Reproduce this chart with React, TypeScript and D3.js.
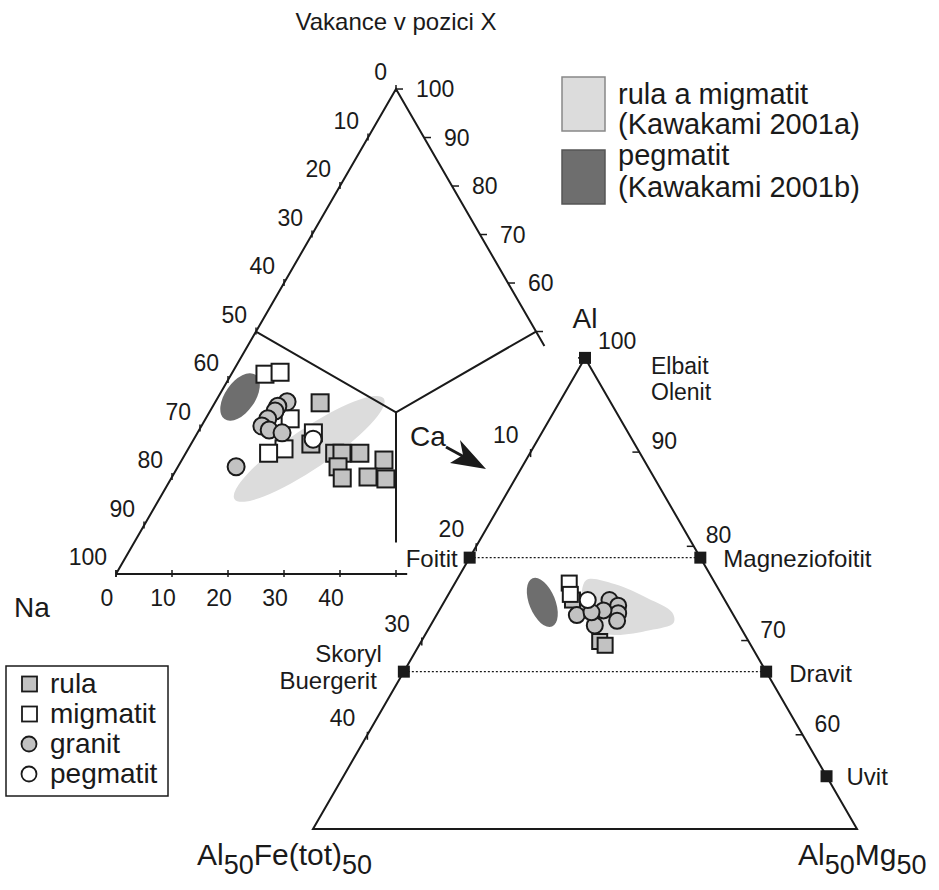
import React, { useEffect, useRef } from 'react';
import * as d3 from 'd3';

// ---- left diagram: X-site (Na, Ca, vacancy), values in %; Na = 100 - vac - ca
const naTicks = [0, 10, 20, 30, 40, 50, 60, 70, 80, 90, 100];
const vacTicks = [100, 90, 80, 70, 60, 50];
const vacLabels = [100, 90, 80, 70, 60];
const caTicks = [0, 10, 20, 30, 40, 50];
const caLabels = [0, 10, 20, 30, 40];

const xRula = [
  { vac: 35.3, ca: 18.8 }, { vac: 26.8, ca: 21.4 }, { vac: 24.9, ca: 26.6 },
  { vac: 24.9, ca: 27.9 }, { vac: 24.9, ca: 31.1 }, { vac: 23.5, ca: 36.1 },
  { vac: 22.1, ca: 28.6 }, { vac: 19.8, ca: 30.5 }, { vac: 20.0, ca: 35.0 },
  { vac: 19.6, ca: 38.4 },
];
const xMigmatit = [
  { vac: 41.2, ca: 6.0 }, { vac: 41.6, ca: 8.5 }, { vac: 32.0, ca: 15.1 },
  { vac: 25.8, ca: 17.1 }, { vac: 24.9, ca: 14.8 }, { vac: 29.1, ca: 20.7 },
];
const xGranit = [
  { vac: 35.5, ca: 12.8 }, { vac: 34.6, ca: 11.6 }, { vac: 33.6, ca: 11.6 },
  { vac: 32.0, ca: 11.1 }, { vac: 30.5, ca: 10.8 }, { vac: 29.7, ca: 12.5 },
  { vac: 29.1, ca: 15.1 }, { vac: 22.1, ca: 10.4 },
];
const xPegmatit = [{ vac: 27.8, ca: 21.3 }];

// Kawakami fields (centres)
const xFieldGneiss = { vac: 25.8, ca: 21.6 };
const xFieldPegmatite = { vac: 36.5, ca: 3.9 };

// ---- right diagram: Y-site Al - Al50Fe50 - Al50Mg50, values in %; Mg = 100 - al - fe
const feTicks = [10, 20, 30, 40];
const alTicks = [100, 90, 80, 70, 60];

const yRula = [{ al: 74.3, fe: 14.0 }, { al: 69.9, fe: 13.7 }, { al: 69.5, fe: 13.4 }];
const yMigmatit = [{ al: 76.1, fe: 13.4 }, { al: 74.9, fe: 13.9 }];
const yGranit = [
  { al: 72.7, fe: 14.4 }, { al: 71.6, fe: 13.3 }, { al: 74.3, fe: 10.6 },
  { al: 73.7, fe: 10.1 }, { al: 72.9, fe: 10.5 }, { al: 72.1, fe: 11.0 },
  { al: 73.2, fe: 11.7 }, { al: 73.0, fe: 12.9 },
];
const yPegmatit = [{ al: 74.3, fe: 12.6 }];

const yFieldGneiss = [
  { al: 76.4, fe: 11.7 }, { al: 76.0, fe: 9.3 }, { al: 74.5, fe: 7.0 },
  { al: 73.0, fe: 5.5 }, { al: 71.9, fe: 5.9 }, { al: 71.1, fe: 8.5 },
  { al: 70.6, fe: 12.0 }, { al: 71.1, fe: 13.8 }, { al: 73.7, fe: 13.4 },
];
const yFieldPegmatite = { al: 74.05, fe: 16.9 };

const endmembers = [
  { name: 'Elbait/Olenit', al: 100, fe: 0 },
  { name: 'Foitit', al: 78.8, fe: 21.2 },
  { name: 'Magneziofoitit', al: 78.8, fe: 0 },
  { name: 'Skoryl/Buergerit', al: 66.7, fe: 33.3 },
  { name: 'Dravit', al: 66.7, fe: 0 },
  { name: 'Uvit', al: 55.6, fe: 0 },
];

const App: React.FC = () => {
  const svgRef = useRef<SVGSVGElement>(null);

  useEffect(() => {
    if (!svgRef.current) return;
    const svg = d3.select(svgRef.current);
    svg.selectAll('*').remove();

    const font = '"Liberation Sans", Arial, Helvetica, sans-serif';
    const ink = '#1a1a1a';
    const light = '#dcdcdc';
    const dark = '#6e6e6e';
    const grey = '#c2c2c2';
    const h = Math.sqrt(3) / 2;
    const line = d3.line();

    const text = (x: number, y: number, s: string, size: number, anchor = 'start') =>
      svg.append('text')
        .attr('x', x).attr('y', y)
        .attr('text-anchor', anchor)
        .style('font-family', font)
        .style('font-size', `${size}px`)
        .style('fill', ink)
        .text(s);

    // left ternary
    const L = { x0: 116, y0: 574, side: 560 };
    const lx = d3.scaleLinear().domain([0, 100]).range([L.x0, L.x0 + L.side]);
    const ly = d3.scaleLinear().domain([0, 100]).range([L.y0, L.y0 - L.side * h]);
    const lp = (vac: number, ca: number): [number, number] => [lx(ca + vac / 2), ly(vac)];

    // right ternary
    const R = { x0: 313, y0: 829, side: 544 };
    const rx = d3.scaleLinear().domain([-50, 50]).range([R.x0, R.x0 + R.side]);
    const ry = d3.scaleLinear().domain([50, 100]).range([R.y0, R.y0 - R.side * h]);
    const rp = (al: number, fe: number): [number, number] => [rx(100 - al - 2 * fe), ry(al)];

    // fields
    const ellipse = (c: [number, number], a: number, b: number, ang: number, fill: string) =>
      svg.append('ellipse')
        .attr('cx', 0).attr('cy', 0).attr('rx', a).attr('ry', b)
        .attr('transform', `translate(${c[0]},${c[1]}) rotate(${ang})`)
        .attr('fill', fill);

    ellipse(lp(xFieldGneiss.vac, xFieldGneiss.ca), 90, 20, -34, light);
    ellipse(lp(xFieldPegmatite.vac, xFieldPegmatite.ca), 27, 15, -55, dark);
    svg.append('path')
      .attr('d', d3.line().curve(d3.curveCatmullRomClosed)(yFieldGneiss.map(d => rp(d.al, d.fe))))
      .attr('fill', light);
    ellipse(rp(yFieldPegmatite.al, yFieldPegmatite.fe), 26, 13, 68, dark);

    // left frame
    const gl = svg.append('g').attr('stroke', ink).attr('stroke-width', 2).attr('fill', 'none');
    gl.append('path').attr('d', line([lp(0, 0), lp(100, 0), lp(47, 53)]));
    gl.append('path').attr('d', line([lp(0, 0), lp(0, 52)]));
    const cen = lp(100 / 3, 100 / 3);
    gl.append('path').attr('d', line([lp(50, 0), cen, lp(50, 50)]));
    gl.append('path').attr('d', line([cen, lp(6.5, 46.75)]));

    naTicks.forEach(v => {
      const [x, y] = lp(100 - v, 0);
      gl.append('path').attr('d', line([[x, y - 4], [x, y + 3]])).attr('stroke-width', 1.5);
      text(x - 9, y - 9, String(v), 23, 'end');
    });
    vacTicks.forEach(v => {
      const [x, y] = lp(v, 100 - v);
      gl.append('path').attr('d', line([[x, y], [x + 7, y]])).attr('stroke-width', 1.5);
    });
    vacLabels.forEach(v => {
      const [x, y] = lp(v, 100 - v);
      text(x + 20, y + 8, String(v), 23);
    });
    caTicks.forEach(v => {
      const [x, y] = lp(0, v);
      gl.append('path').attr('d', line([[x, y - 4], [x, y + 3]])).attr('stroke-width', 1.5);
    });
    caLabels.forEach(v => {
      const [x, y] = lp(0, v);
      text(x - 9, y + 32, String(v), 23, 'middle');
    });

    // right frame
    const gr = svg.append('g').attr('stroke', ink).attr('stroke-width', 2).attr('fill', 'none');
    gr.append('path').attr('d', line([rp(100, 0), rp(50, 50), rp(50, 0)]) + 'Z');
    feTicks.forEach(v => {
      const [x, y] = rp(100 - v, v);
      gr.append('path').attr('d', line([[x, y - 3], [x, y + 5]])).attr('stroke-width', 1.5);
      text(x - 12, y - 9, String(v), 23, 'end');
    });
    alTicks.forEach(v => {
      const [x, y] = rp(v, 0);
      gr.append('path').attr('d', line([[x - 7, y], [x, y]])).attr('stroke-width', 1.5);
      if (v === 100) text(x + 13, y - 9, String(v), 23);
      else text(x + 12, y - 3, String(v), 23);
    });

    // dotted tie lines
    const tie = (a: number, b: number) => {
      svg.append('path')
        .attr('d', line([rp(endmembers[a].al, endmembers[a].fe), rp(endmembers[b].al, endmembers[b].fe)]))
        .attr('stroke', ink).attr('stroke-width', 1.2).attr('stroke-dasharray', '2,2').attr('fill', 'none');
    };
    tie(1, 2);
    tie(3, 4);

    // endmember squares
    svg.append('g').selectAll('rect').data(endmembers).join('rect')
      .attr('x', d => rp(d.al, d.fe)[0] - 6).attr('y', d => rp(d.al, d.fe)[1] - 6)
      .attr('width', 12).attr('height', 12).attr('fill', ink);

    const em = endmembers.map(d => rp(d.al, d.fe));
    text(em[0][0] + 66, em[0][1] + 16, 'Elbait', 23);
    text(em[0][0] + 66, em[0][1] + 42, 'Olenit', 23);
    text(em[1][0] - 12, em[1][1] + 9, 'Foitit', 24, 'end');
    text(em[2][0] + 23, em[2][1] + 9, 'Magneziofoitit', 24);
    text(em[3][0] - 22, em[3][1] - 10, 'Skoryl', 24, 'end');
    text(em[3][0] - 27, em[3][1] + 17, 'Buergerit', 24, 'end');
    text(em[4][0] + 23, em[4][1] + 10, 'Dravit', 24);
    text(em[5][0] + 20, em[5][1] + 9, 'Uvit', 24);

    // symbols
    const squares = (pts: [number, number][], fill: string, s: number) =>
      svg.append('g').selectAll('rect').data(pts).join('rect')
        .attr('x', d => d[0] - s / 2).attr('y', d => d[1] - s / 2)
        .attr('width', s).attr('height', s)
        .attr('fill', fill).attr('stroke', ink).attr('stroke-width', 2);
    const circles = (pts: [number, number][], fill: string, r: number) =>
      svg.append('g').selectAll('circle').data(pts).join('circle')
        .attr('cx', d => d[0]).attr('cy', d => d[1]).attr('r', r)
        .attr('fill', fill).attr('stroke', ink).attr('stroke-width', 2);

    squares(xRula.map(d => lp(d.vac, d.ca)), grey, 17);
    squares(xMigmatit.map(d => lp(d.vac, d.ca)), '#fff', 17);
    circles(xGranit.map(d => lp(d.vac, d.ca)), grey, 8.5);
    circles(xPegmatit.map(d => lp(d.vac, d.ca)), '#fff', 8.5);

    squares(yRula.map(d => rp(d.al, d.fe)), grey, 15);
    squares(yMigmatit.map(d => rp(d.al, d.fe)), '#fff', 15);
    circles(yGranit.map(d => rp(d.al, d.fe)), grey, 8);
    circles(yPegmatit.map(d => rp(d.al, d.fe)), '#fff', 8);

    // axis names
    text(lx(50), 30, 'Vakance v pozici X', 24, 'middle');
    text(14, 617, 'Na', 28);
    text(rx(0), 328, 'Al', 28, 'middle');
    text(410, 446, 'Ca', 28);

    const sub = (x: number, y: number, parts: [string, boolean][]) => {
      const t = svg.append('text').attr('x', x).attr('y', y)
        .style('font-family', font).style('fill', ink);
      parts.forEach(([s, isSub]) => {
        t.append('tspan')
          .attr('dy', isSub ? 9 : -9)
          .style('font-size', isSub ? '27px' : '30px')
          .text(s);
      });
    };
    sub(197, 874, [['Al', false], ['50', true], ['Fe(tot)', false], ['50', true]]);
    sub(798, 874, [['Al', false], ['50', true], ['Mg', false], ['50', true]]);

    // Ca arrow
    svg.append('path').attr('d', line([[446, 447], [468, 459]]))
      .attr('stroke', ink).attr('stroke-width', 3);
    svg.append('path').attr('d', line([[486, 469], [460, 440], [463, 455], [450, 463]]) + 'Z')
      .attr('fill', ink);

    // legend top right
    svg.append('rect').attr('x', 562).attr('y', 77).attr('width', 43).attr('height', 54)
      .attr('fill', light).attr('stroke', '#888').attr('stroke-width', 1.5);
    svg.append('rect').attr('x', 562).attr('y', 150).attr('width', 43).attr('height', 54)
      .attr('fill', dark).attr('stroke', '#555').attr('stroke-width', 1.5);
    text(618, 104, 'rula a migmatit', 29);
    text(618, 134, '(Kawakami 2001a)', 29);
    text(618, 165, 'pegmatit', 29);
    text(618, 197, '(Kawakami 2001b)', 29);

    // legend bottom left
    svg.append('rect').attr('x', 6).attr('y', 666).attr('width', 162).attr('height', 130)
      .attr('fill', 'none').attr('stroke', ink).attr('stroke-width', 1.5);
    const items = [
      { label: 'rula', shape: 'square', fill: grey },
      { label: 'migmatit', shape: 'square', fill: '#fff' },
      { label: 'granit', shape: 'circle', fill: grey },
      { label: 'pegmatit', shape: 'circle', fill: '#fff' },
    ];
    items.forEach((it, i) => {
      const cy = 684 + i * 30;
      if (it.shape === 'square') {
        svg.append('rect').attr('x', 22).attr('y', cy - 7.5).attr('width', 15).attr('height', 15)
          .attr('fill', it.fill).attr('stroke', ink).attr('stroke-width', 1.8);
      } else {
        svg.append('circle').attr('cx', 29).attr('cy', cy).attr('r', 7.5)
          .attr('fill', it.fill).attr('stroke', ink).attr('stroke-width', 1.8);
      }
      text(50, cy + 9, it.label, 28);
    });
  }, []);

  return (
    <svg ref={svgRef} width={939} height={890}
      style={{ position: 'absolute', left: 0, top: 0, background: '#fff' }} />
  );
};

export default App;
